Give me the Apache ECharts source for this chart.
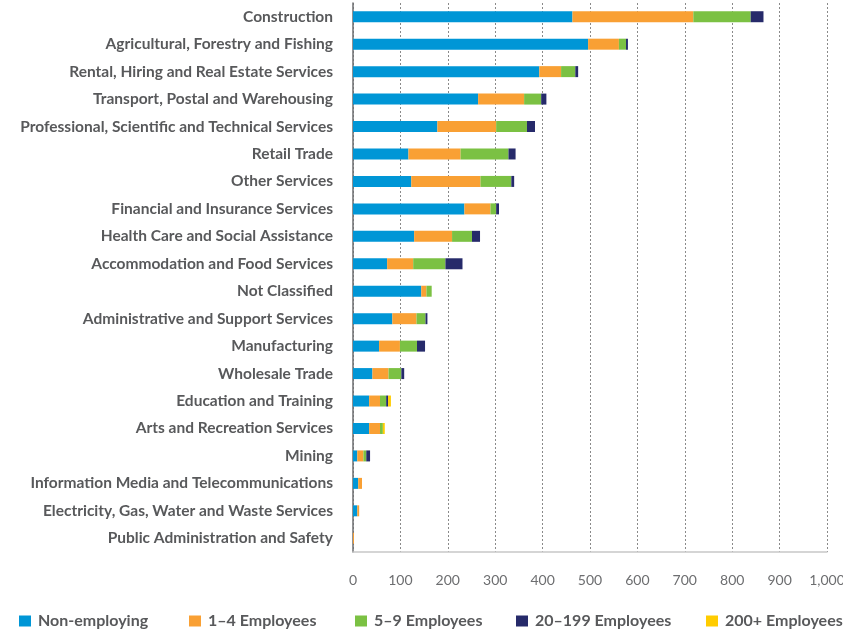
<!DOCTYPE html>
<html>
<head>
<meta charset="utf-8">
<script src="https://cdn.jsdelivr.net/npm/echarts@6/dist/echarts.min.js"></script>
<style>
html,body{margin:0;padding:0;background:#fff;}
#chart{width:843px;height:631px;}
</style>
</head>
<body>
<div id="chart"></div>
<script>
const categories = [
  'Construction',
  'Agricultural, Forestry and Fishing',
  'Rental, Hiring and Real Estate Services',
  'Transport, Postal and Warehousing',
  'Professional, Scientific and Technical Services',
  'Retail Trade',
  'Other Services',
  'Financial and Insurance Services',
  'Health Care and Social Assistance',
  'Accommodation and Food Services',
  'Not Classified',
  'Administrative and Support Services',
  'Manufacturing',
  'Wholesale Trade',
  'Education and Training',
  'Arts and Recreation Services',
  'Mining',
  'Information Media and Telecommunications',
  'Electricity, Gas, Water and Waste Services',
  'Public Administration and Safety'
];
const nonEmploying = [463, 496, 393, 264, 178, 117, 123, 235, 129, 72, 144, 83, 55, 41, 34, 34, 9, 11, 9, 0];
const emp1to4      = [255, 65, 46, 97, 124, 110, 146, 55, 80, 55, 11, 51, 44, 34, 23, 23, 13, 8, 4, 2];
const emp5to9      = [121, 15, 30, 36, 65, 101, 65, 12, 42, 68, 11, 19, 36, 27, 13, 6, 6, 0, 0, 0];
const emp20to199   = [27, 4, 6, 11, 17, 15, 6, 6, 17, 36, 0, 4, 17, 6, 4, 0, 8, 0, 0, 0];
const emp200plus   = [0, 0, 0, 0, 0, 0, 0, 0, 0, 0, 0, 0, 0, 0, 6, 4, 0, 0, 0, 0];
const seriesNames = ['Non-employing', '1\u20134 Employees', '5\u20139 Employees', '20\u2013199 Employees', '200+ Employees'];
const seriesData = [nonEmploying, emp1to4, emp5to9, emp20to199, emp200plus];
const colors = ['#0096d6', '#f9a034', '#7bc143', '#262a6a', '#ffcc00'];
const xTicks = { min: 0, max: 1000, interval: 100 };

const legendLefts = [19, 189, 355, 516, 706];
const chart = echarts.init(document.getElementById('chart'));
const option = {
  animation: false,
  color: colors,
  grid: { left: 353, right: 16, top: 3, bottom: 79, containLabel: false, outerBoundsMode: 'none' },
  legend: seriesNames.map((n, i) => ({
    data: [n],
    left: legendLefts[i],
    top: 613,
    padding: 0,
    icon: 'rect',
    itemWidth: 12,
    itemHeight: 11,
    selectedMode: false,
    textStyle: { fontFamily: 'Lato', fontWeight: 'bold', fontSize: 16, color: '#58595b', padding: [0, 0, 0, 2] }
  })),
  xAxis: {
    type: 'value',
    min: xTicks.min,
    max: xTicks.max,
    interval: xTicks.interval,
    axisLine: { show: true, lineStyle: { color: '#c8c8c8', width: 1.5 } },
    axisTick: { show: false },
    axisLabel: {
      margin: 21,
      fontFamily: 'Lato',
      fontSize: 14,
      color: '#6d6e70',
      formatter: v => v.toLocaleString('en-US')
    },
    splitLine: { show: true, lineStyle: { color: '#8a8a8a', type: [2, 2], width: 1 } }
  },
  yAxis: {
    type: 'category',
    data: categories,
    inverse: true,
    axisLine: { show: true, lineStyle: { color: '#6d6e70', width: 1.5 } },
    axisTick: { show: false },
    axisLabel: {
      margin: 20,
      fontFamily: 'Lato',
      fontWeight: 'bold',
      fontSize: 15.5,
      color: '#58595b'
    },
    splitLine: { show: false }
  },
  series: seriesNames.map((n, i) => ({
    name: n,
    type: 'bar',
    stack: 'total',
    barWidth: 11,
    data: seriesData[i],
    itemStyle: { color: colors[i] }
  }))
};
chart.setOption(option);
</script>
</body>
</html>
